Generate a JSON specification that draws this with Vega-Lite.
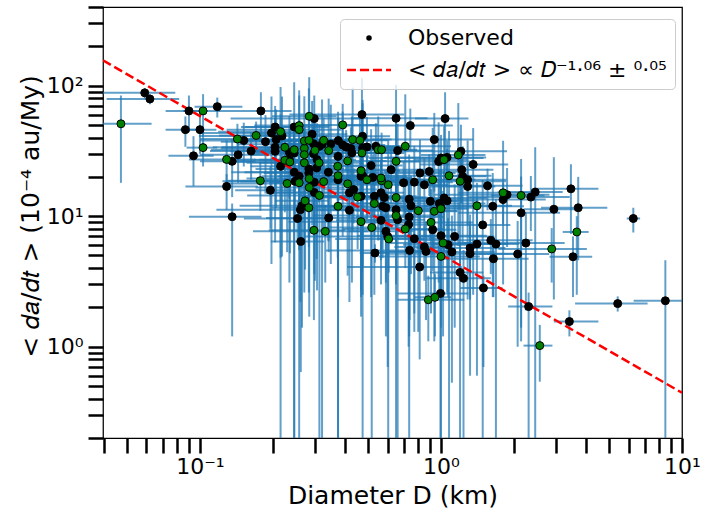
{
"$schema": "https://vega.github.io/schema/vega-lite/v6.json",
"width": 579, "height": 431,
"autosize": {"type": "none"},
"padding": {"left": 103, "top": 7, "right": 30, "bottom": 70},
"background": "white",
"config": {"font": "DejaVu Sans", "view": {"stroke": "black", "strokeWidth": 1.25}},
"datasets": {
"fit": [{"d":0.0396,"v":156},{"d":10,"v":0.444}],
"pts": [
{"d":0.047,"dl":0.031,"dh":0.063,"v":51,"vl":18,"vh":84,"g":"G"},
{"d":0.059,"dl":0.039,"dh":0.079,"v":88,"vl":80,"vh":96,"g":"B"},
{"d":0.062,"dl":0.041,"dh":0.082,"v":79,"vl":72,"vh":86,"g":"B"},
{"d":0.09,"dl":0.072,"dh":0.108,"v":64,"vl":44,"vh":84,"g":"B"},
{"d":0.103,"dl":0.085,"dh":0.121,"v":64,"vl":42,"vh":86,"g":"G"},
{"d":0.118,"dl":0.095,"dh":0.15,"v":69,"vl":57,"vh":81,"g":"B"},
{"d":0.087,"dl":0.072,"dh":0.102,"v":46,"vl":34,"vh":58,"g":"B"},
{"d":0.1,"dl":0.083,"dh":0.117,"v":46,"vl":30,"vh":62,"g":"B"},
{"d":0.103,"dl":0.088,"dh":0.118,"v":33.5,"vl":24,"vh":43,"g":"G"},
{"d":0.094,"dl":0.074,"dh":0.114,"v":29,"vl":17,"vh":41,"g":"B"},
{"d":0.179,"dl":0.12,"dh":0.24,"v":64,"vl":39,"vh":89,"g":"B"},
{"d":0.143,"dl":0.1,"dh":0.18,"v":39,"vl":27,"vh":51,"g":"G"},
{"d":0.152,"dl":0.1,"dh":0.2,"v":38,"vl":24,"vh":52,"g":"B"},
{"d":0.171,"dl":0.12,"dh":0.22,"v":41.5,"vl":30,"vh":53,"g":"G"},
{"d":0.163,"dl":0.11,"dh":0.21,"v":31.5,"vl":19,"vh":44,"g":"B"},
{"d":0.144,"dl":0.1,"dh":0.19,"v":29.5,"vl":18,"vh":41,"g":"B"},
{"d":0.129,"dl":0.09,"dh":0.17,"v":27.2,"vl":16,"vh":38,"g":"G"},
{"d":0.136,"dl":0.1,"dh":0.17,"v":26.3,"vl":14,"vh":39,"g":"B"},
{"d":0.129,"dl":0.087,"dh":0.174,"v":16.9,"vl":11.2,"vh":21,"g":"B"},
{"d":0.178,"dl":0.13,"dh":0.23,"v":18.7,"vl":11,"vh":26,"g":"G"},
{"d":0.196,"dl":0.14,"dh":0.25,"v":15.8,"vl":8,"vh":24,"g":"B"},
{"d":0.136,"dl":0.09,"dh":0.18,"v":9.9,"vl":1.2,"vh":12.5,"g":"B"},
{"d":0.187,"dl":0.122,"dh":0.252,"v":37.2,"vl":14.9,"vh":59.5,"g":"B"},
{"d":0.198,"dl":0.099,"dh":0.297,"v":43.4,"vl":4.3,"vh":82.5,"g":"B"},
{"d":0.205,"dl":0.154,"dh":0.256,"v":48.2,"vl":26.5,"vh":69.9,"g":"B"},
{"d":0.216,"dl":0.119,"dh":0.313,"v":44.4,"vl":0.05,"vh":97.7,"g":"G"},
{"d":0.207,"dl":0.145,"dh":0.269,"v":38.6,"vl":11.6,"vh":65.6,"g":"B"},
{"d":0.219,"dl":0.099,"dh":0.339,"v":41.2,"vl":4.9,"vh":82.4,"g":"B"},
{"d":0.205,"dl":0.123,"dh":0.287,"v":33.7,"vl":16.9,"vh":50.6,"g":"B"},
{"d":0.205,"dl":0.133,"dh":0.277,"v":31.4,"vl":6.3,"vh":56.5,"g":"B"},
{"d":0.225,"dl":0.113,"dh":0.338,"v":33.7,"vl":21.9,"vh":45.5,"g":"G"},
{"d":0.216,"dl":0.162,"dh":0.27,"v":24.1,"vl":4.8,"vh":60.3,"g":"B"},
{"d":0.225,"dl":0.124,"dh":0.326,"v":26.8,"vl":10.7,"vh":42.9,"g":"G"},
{"d":0.235,"dl":0.165,"dh":0.306,"v":30.8,"vl":3.1,"vh":58.5,"g":"B"},
{"d":0.246,"dl":0.111,"dh":0.381,"v":32.3,"vl":17.8,"vh":46.8,"g":"G"},
{"d":0.246,"dl":0.148,"dh":0.344,"v":48.2,"vl":0.05,"vh":106,"g":"B"},
{"d":0.258,"dl":0.168,"dh":0.348,"v":49.4,"vl":14.8,"vh":84,"g":"G"},
{"d":0.258,"dl":0.129,"dh":0.387,"v":46,"vl":5.5,"vh":92,"g":"G"},
{"d":0.235,"dl":0.176,"dh":0.294,"v":27.1,"vl":13.6,"vh":40.7,"g":"B"},
{"d":0.236,"dl":0.13,"dh":0.342,"v":26,"vl":5.2,"vh":46.8,"g":"G"},
{"d":0.246,"dl":0.172,"dh":0.32,"v":30.5,"vl":19.8,"vh":41.2,"g":"B"},
{"d":0.271,"dl":0.122,"dh":0.42,"v":33.1,"vl":6.6,"vh":82.8,"g":"G"},
{"d":0.271,"dl":0.163,"dh":0.379,"v":29.6,"vl":11.8,"vh":47.4,"g":"G"},
{"d":0.271,"dl":0.176,"dh":0.366,"v":25.6,"vl":2.6,"vh":48.6,"g":"G"},
{"d":0.248,"dl":0.124,"dh":0.372,"v":18.5,"vl":10.2,"vh":26.8,"g":"B"},
{"d":0.258,"dl":0.194,"dh":0.323,"v":18,"vl":0.05,"vh":39.6,"g":"G"},
{"d":0.23,"dl":0.127,"dh":0.334,"v":17.8,"vl":5.3,"vh":30.3,"g":"G"},
{"d":0.284,"dl":0.199,"dh":0.369,"v":58.2,"vl":7,"vh":116,"g":"G"},
{"d":0.298,"dl":0.134,"dh":0.462,"v":55.9,"vl":28,"vh":83.9,"g":"B"},
{"d":0.292,"dl":0.175,"dh":0.409,"v":42.4,"vl":8.5,"vh":76.3,"g":"B"},
{"d":0.271,"dl":0.176,"dh":0.366,"v":37.7,"vl":24.5,"vh":50.9,"g":"G"},
{"d":0.283,"dl":0.142,"dh":0.425,"v":38.1,"vl":7.6,"vh":95.3,"g":"G"},
{"d":0.296,"dl":0.222,"dh":0.37,"v":35.9,"vl":14.4,"vh":57.4,"g":"B"},
{"d":0.3,"dl":0.165,"dh":0.435,"v":31.9,"vl":3.2,"vh":60.6,"g":"G"},
{"d":0.313,"dl":0.219,"dh":0.407,"v":34.3,"vl":18.9,"vh":49.7,"g":"B"},
{"d":0.321,"dl":0.144,"dh":0.498,"v":35.5,"vl":0.05,"vh":78.1,"g":"B"},
{"d":0.283,"dl":0.17,"dh":0.396,"v":23,"vl":6.9,"vh":39.1,"g":"B"},
{"d":0.283,"dl":0.184,"dh":0.382,"v":21.4,"vl":2.6,"vh":42.8,"g":"B"},
{"d":0.312,"dl":0.156,"dh":0.468,"v":25.6,"vl":12.8,"vh":38.4,"g":"G"},
{"d":0.305,"dl":0.229,"dh":0.381,"v":23.4,"vl":4.7,"vh":42.1,"g":"B"},
{"d":0.284,"dl":0.156,"dh":0.412,"v":19.4,"vl":12.6,"vh":26.2,"g":"G"},
{"d":0.298,"dl":0.209,"dh":0.387,"v":18.2,"vl":3.6,"vh":45.5,"g":"B"},
{"d":0.326,"dl":0.147,"dh":0.505,"v":18.4,"vl":7.4,"vh":29.4,"g":"G"},
{"d":0.284,"dl":0.17,"dh":0.398,"v":16.6,"vl":1.7,"vh":31.5,"g":"G"},
{"d":0.298,"dl":0.194,"dh":0.402,"v":15.2,"vl":8.4,"vh":22,"g":"B"},
{"d":0.313,"dl":0.157,"dh":0.47,"v":14.4,"vl":0.05,"vh":31.7,"g":"G"},
{"d":0.273,"dl":0.205,"dh":0.341,"v":13.1,"vl":3.9,"vh":22.3,"g":"G"},
{"d":0.265,"dl":0.146,"dh":0.384,"v":12,"vl":1.4,"vh":24,"g":"B"},
{"d":0.283,"dl":0.198,"dh":0.368,"v":11.6,"vl":5.8,"vh":17.4,"g":"G"},
{"d":0.261,"dl":0.117,"dh":0.405,"v":11.2,"vl":2.2,"vh":20.2,"g":"B"},
{"d":0.254,"dl":0.152,"dh":0.356,"v":9.6,"vl":6.2,"vh":13,"g":"B"},
{"d":0.297,"dl":0.193,"dh":0.401,"v":7.8,"vl":1.6,"vh":19.5,"g":"G"},
{"d":0.331,"dl":0.166,"dh":0.497,"v":7.65,"vl":3.1,"vh":12.2,"g":"G"},
{"d":0.262,"dl":0.197,"dh":0.328,"v":6.4,"vl":0.64,"vh":12.2,"g":"B"},
{"d":0.342,"dl":0.188,"dh":0.496,"v":9.7,"vl":5.3,"vh":14.1,"g":"B"},
{"d":0.374,"dl":0.262,"dh":0.486,"v":11.9,"vl":0.05,"vh":26.2,"g":"G"},
{"d":0.341,"dl":0.153,"dh":0.529,"v":21.7,"vl":6.5,"vh":36.9,"g":"B"},
{"d":0.349,"dl":0.209,"dh":0.489,"v":35.7,"vl":4.3,"vh":71.4,"g":"B"},
{"d":0.375,"dl":0.244,"dh":0.506,"v":37.9,"vl":19,"vh":56.9,"g":"B"},
{"d":0.391,"dl":0.196,"dh":0.587,"v":35.1,"vl":7,"vh":63.2,"g":"B"},
{"d":0.404,"dl":0.303,"dh":0.505,"v":33.8,"vl":22,"vh":45.6,"g":"B"},
{"d":0.43,"dl":0.237,"dh":0.624,"v":38.6,"vl":7.7,"vh":96.5,"g":"G"},
{"d":0.461,"dl":0.323,"dh":0.599,"v":38.1,"vl":15.2,"vh":61,"g":"G"},
{"d":0.427,"dl":0.192,"dh":0.662,"v":30.5,"vl":3.1,"vh":58,"g":"B"},
{"d":0.391,"dl":0.235,"dh":0.547,"v":50,"vl":27.5,"vh":72.5,"g":"G"},
{"d":0.374,"dl":0.243,"dh":0.505,"v":28.7,"vl":0.05,"vh":63.1,"g":"B"},
{"d":0.374,"dl":0.187,"dh":0.561,"v":19,"vl":5.7,"vh":32.3,"g":"B"},
{"d":0.374,"dl":0.281,"dh":0.468,"v":20.4,"vl":2.4,"vh":40.8,"g":"G"},
{"d":0.41,"dl":0.226,"dh":0.595,"v":26.5,"vl":13.3,"vh":39.8,"g":"G"},
{"d":0.41,"dl":0.287,"dh":0.533,"v":17.7,"vl":3.5,"vh":31.9,"g":"G"},
{"d":0.417,"dl":0.188,"dh":0.646,"v":15.1,"vl":9.8,"vh":20.4,"g":"B"},
{"d":0.417,"dl":0.25,"dh":0.584,"v":11.1,"vl":2.2,"vh":27.8,"g":"B"},
{"d":0.451,"dl":0.293,"dh":0.609,"v":14,"vl":5.6,"vh":22.4,"g":"G"},
{"d":0.47,"dl":0.235,"dh":0.705,"v":60,"vl":6,"vh":114,"g":"B"},
{"d":0.434,"dl":0.326,"dh":0.543,"v":16,"vl":8.8,"vh":23.2,"g":"B"},
{"d":0.246,"dl":0.135,"dh":0.357,"v":21.7,"vl":0.05,"vh":47.7,"g":"B"},
{"d":0.258,"dl":0.181,"dh":0.335,"v":20.2,"vl":6.1,"vh":34.3,"g":"B"},
{"d":0.466,"dl":0.21,"dh":0.722,"v":20.2,"vl":2.4,"vh":40.4,"g":"B"},
{"d":0.521,"dl":0.313,"dh":0.729,"v":19.8,"vl":9.9,"vh":29.7,"g":"B"},
{"d":0.651,"dl":0.423,"dh":0.879,"v":56.2,"vl":11.2,"vh":101,"g":"B"},
{"d":0.746,"dl":0.373,"dh":1.12,"v":49.4,"vl":32.1,"vh":66.7,"g":"B"},
{"d":1.04,"dl":0.78,"dh":1.3,"v":55.9,"vl":22.4,"vh":89,"g":"B"},
{"d":0.938,"dl":0.516,"dh":1.36,"v":38.6,"vl":15.4,"vh":61.8,"g":"B"},
{"d":0.473,"dl":0.331,"dh":0.615,"v":40.9,"vl":4.1,"vh":77.7,"g":"B"},
{"d":0.423,"dl":0.19,"dh":0.656,"v":33,"vl":18.2,"vh":47.9,"g":"B"},
{"d":0.473,"dl":0.284,"dh":0.662,"v":33.3,"vl":0.05,"vh":73.3,"g":"B"},
{"d":0.493,"dl":0.32,"dh":0.666,"v":33.9,"vl":10.2,"vh":57.6,"g":"B"},
{"d":0.47,"dl":0.235,"dh":0.705,"v":30.5,"vl":3.7,"vh":61,"g":"G"},
{"d":0.537,"dl":0.403,"dh":0.671,"v":34.3,"vl":17.2,"vh":51.5,"g":"B"},
{"d":0.549,"dl":0.302,"dh":0.796,"v":32.3,"vl":6.5,"vh":58.1,"g":"G"},
{"d":0.567,"dl":0.397,"dh":0.737,"v":32.3,"vl":21,"vh":43.6,"g":"G"},
{"d":0.711,"dl":0.32,"dh":1.1,"v":34.3,"vl":6.9,"vh":85.8,"g":"G"},
{"d":0.661,"dl":0.397,"dh":0.925,"v":31.8,"vl":12.7,"vh":50.9,"g":"B"},
{"d":0.513,"dl":0.333,"dh":0.693,"v":24.4,"vl":2.4,"vh":46.4,"g":"B"},
{"d":0.621,"dl":0.311,"dh":0.932,"v":22.7,"vl":12.5,"vh":32.9,"g":"B"},
{"d":0.651,"dl":0.488,"dh":0.814,"v":26.3,"vl":0.05,"vh":57.9,"g":"G"},
{"d":0.466,"dl":0.256,"dh":0.676,"v":22.3,"vl":6.7,"vh":37.9,"g":"G"},
{"d":0.473,"dl":0.331,"dh":0.615,"v":20.5,"vl":2.5,"vh":41,"g":"B"},
{"d":0.493,"dl":0.222,"dh":0.764,"v":19,"vl":9.5,"vh":28.5,"g":"G"},
{"d":0.818,"dl":0.491,"dh":1.15,"v":21.4,"vl":4.3,"vh":38.5,"g":"B"},
{"d":0.894,"dl":0.581,"dh":1.21,"v":22,"vl":14.3,"vh":29.7,"g":"B"},
{"d":0.924,"dl":0.462,"dh":1.39,"v":19,"vl":3.8,"vh":47.5,"g":"G"},
{"d":0.853,"dl":0.64,"dh":1.07,"v":17.4,"vl":7,"vh":27.8,"g":"B"},
{"d":0.775,"dl":0.426,"dh":1.12,"v":18.2,"vl":1.8,"vh":34.6,"g":"B"},
{"d":0.7,"dl":0.49,"dh":0.91,"v":18,"vl":9.9,"vh":26.1,"g":"B"},
{"d":0.604,"dl":0.272,"dh":0.936,"v":17.4,"vl":0.05,"vh":38.3,"g":"G"},
{"d":0.567,"dl":0.34,"dh":0.794,"v":18.7,"vl":5.6,"vh":31.8,"g":"G"},
{"d":0.978,"dl":0.636,"dh":1.32,"v":26.2,"vl":3.1,"vh":52.4,"g":"B"},
{"d":1.0,"dl":0.5,"dh":1.5,"v":27.9,"vl":14,"vh":41.9,"g":"B"},
{"d":1.03,"dl":0.773,"dh":1.29,"v":27.1,"vl":5.4,"vh":48.8,"g":"G"},
{"d":1.06,"dl":0.583,"dh":1.54,"v":28.2,"vl":18.3,"vh":38.1,"g":"B"},
{"d":1.18,"dl":0.826,"dh":1.53,"v":29.4,"vl":5.9,"vh":73.5,"g":"G"},
{"d":1.21,"dl":0.545,"dh":1.88,"v":31.4,"vl":12.6,"vh":50.2,"g":"B"},
{"d":1.36,"dl":0.816,"dh":1.9,"v":24.9,"vl":2.5,"vh":47.3,"g":"B"},
{"d":1.22,"dl":0.793,"dh":1.65,"v":22.7,"vl":12.5,"vh":32.9,"g":"B"},
{"d":1.08,"dl":0.54,"dh":1.62,"v":20.4,"vl":0.05,"vh":44.9,"g":"G"},
{"d":1.23,"dl":0.923,"dh":1.54,"v":20.2,"vl":6.1,"vh":34.3,"g":"B"},
{"d":1.29,"dl":0.71,"dh":1.87,"v":19,"vl":2.3,"vh":38,"g":"B"},
{"d":1.29,"dl":0.903,"dh":1.68,"v":16.9,"vl":8.5,"vh":25.4,"g":"B"},
{"d":1.2,"dl":0.54,"dh":1.86,"v":18.5,"vl":3.7,"vh":33.3,"g":"G"},
{"d":1.56,"dl":0.936,"dh":2.18,"v":17.1,"vl":11.1,"vh":23.1,"g":"B"},
{"d":1.81,"dl":1.18,"dh":2.44,"v":15.1,"vl":3,"vh":37.8,"g":"G"},
{"d":1.88,"dl":0.94,"dh":2.82,"v":14.6,"vl":5.8,"vh":23.4,"g":"B"},
{"d":2.15,"dl":1.61,"dh":2.69,"v":14.4,"vl":1.4,"vh":27.4,"g":"G"},
{"d":2.36,"dl":1.3,"dh":3.42,"v":14,"vl":7.7,"vh":20.3,"g":"B"},
{"d":2.46,"dl":1.72,"dh":3.2,"v":15.3,"vl":0.05,"vh":33.7,"g":"B"},
{"d":3.46,"dl":2.42,"dh":4.5,"v":16.2,"vl":7.3,"vh":25,"g":"B"},
{"d":1.41,"dl":0.846,"dh":1.97,"v":12,"vl":6,"vh":18,"g":"G"},
{"d":1.64,"dl":1.07,"dh":2.21,"v":11.9,"vl":2.4,"vh":21.4,"g":"B"},
{"d":1.81,"dl":0.905,"dh":2.72,"v":13.4,"vl":8.7,"vh":18.1,"g":"B"},
{"d":2.94,"dl":2.2,"dh":3.68,"v":11.3,"vl":2.3,"vh":28.3,"g":"B"},
{"d":3.71,"dl":2.6,"dh":4.9,"v":11.6,"vl":4.6,"vh":20,"g":"B"},
{"d":2.15,"dl":1.18,"dh":3.12,"v":10.6,"vl":1.1,"vh":20.1,"g":"B"},
{"d":6.28,"dl":5.9,"dh":6.7,"v":9.6,"vl":7.5,"vh":11.6,"g":"B"},
{"d":3.66,"dl":3.2,"dh":4.1,"v":7.57,"vl":2.5,"vh":10,"g":"G"},
{"d":1.49,"dl":1.04,"dh":1.94,"v":8.57,"vl":0.05,"vh":18.9,"g":"B"},
{"d":0.532,"dl":0.46,"dh":0.6,"v":5.22,"vl":4.4,"vh":6.1,"g":"B"},
{"d":0.741,"dl":0.333,"dh":1.15,"v":5.47,"vl":1.6,"vh":9.3,"g":"B"},
{"d":2.88,"dl":1.73,"dh":4.03,"v":5.61,"vl":3.1,"vh":8.1,"g":"G"},
{"d":3.53,"dl":2.82,"dh":4.24,"v":4.89,"vl":2.4,"vh":7,"g":"B"},
{"d":0.466,"dl":0.303,"dh":0.629,"v":14.2,"vl":1.7,"vh":28.4,"g":"B"},
{"d":0.529,"dl":0.265,"dh":0.794,"v":14.2,"vl":7.1,"vh":21.3,"g":"B"},
{"d":0.564,"dl":0.423,"dh":0.705,"v":15.1,"vl":3,"vh":27.2,"g":"B"},
{"d":0.582,"dl":0.32,"dh":0.844,"v":13.9,"vl":9,"vh":18.8,"g":"B"},
{"d":0.529,"dl":0.37,"dh":0.688,"v":12.5,"vl":2.5,"vh":31.3,"g":"G"},
{"d":0.573,"dl":0.258,"dh":0.888,"v":11.9,"vl":4.8,"vh":19,"g":"B"},
{"d":0.591,"dl":0.355,"dh":0.827,"v":11.6,"vl":1.2,"vh":22,"g":"B"},
{"d":0.651,"dl":0.423,"dh":0.879,"v":13.9,"vl":7.6,"vh":20.2,"g":"G"},
{"d":0.738,"dl":0.369,"dh":1.11,"v":13.5,"vl":0.05,"vh":29.7,"g":"B"},
{"d":0.751,"dl":0.563,"dh":0.939,"v":12,"vl":3.6,"vh":20.4,"g":"B"},
{"d":0.805,"dl":0.443,"dh":1.17,"v":11,"vl":1.3,"vh":22,"g":"G"},
{"d":0.903,"dl":0.632,"dh":1.17,"v":13,"vl":6.5,"vh":19.5,"g":"B"},
{"d":0.984,"dl":0.443,"dh":1.53,"v":12.5,"vl":2.5,"vh":22.5,"g":"B"},
{"d":1.0,"dl":0.6,"dh":1.4,"v":11.6,"vl":7.5,"vh":15.7,"g":"B"},
{"d":1.06,"dl":0.689,"dh":1.43,"v":13.1,"vl":2.6,"vh":32.8,"g":"B"},
{"d":1.03,"dl":0.515,"dh":1.55,"v":13.8,"vl":5.5,"vh":22.1,"g":"B"},
{"d":0.938,"dl":0.704,"dh":1.17,"v":10.9,"vl":1.1,"vh":20.7,"g":"G"},
{"d":0.651,"dl":0.358,"dh":0.944,"v":11.2,"vl":6.2,"vh":16.2,"g":"B"},
{"d":0.661,"dl":0.463,"dh":0.859,"v":9.4,"vl":0.05,"vh":20.7,"g":"B"},
{"d":0.651,"dl":0.293,"dh":1.01,"v":10.1,"vl":3,"vh":17.2,"g":"G"},
{"d":0.738,"dl":0.443,"dh":1.03,"v":9.86,"vl":1.2,"vh":19.7,"g":"B"},
{"d":0.564,"dl":0.367,"dh":0.761,"v":9.29,"vl":4.6,"vh":13.9,"g":"B"},
{"d":0.909,"dl":0.455,"dh":1.36,"v":8.96,"vl":1.8,"vh":16.1,"g":"G"},
{"d":0.924,"dl":0.693,"dh":1.16,"v":7.88,"vl":5.1,"vh":10.6,"g":"B"},
{"d":1.14,"dl":0.627,"dh":1.65,"v":7,"vl":1.4,"vh":17.5,"g":"B"},
{"d":0.591,"dl":0.414,"dh":0.768,"v":7.65,"vl":3.1,"vh":12.2,"g":"B"},
{"d":0.601,"dl":0.27,"dh":0.932,"v":7,"vl":0.7,"vh":13.3,"g":"B"},
{"d":0.607,"dl":0.364,"dh":0.85,"v":6.69,"vl":3.7,"vh":9.7,"g":"G"},
{"d":0.516,"dl":0.335,"dh":0.697,"v":8.2,"vl":0.05,"vh":18,"g":"G"},
{"d":0.466,"dl":0.233,"dh":0.699,"v":9.08,"vl":2.7,"vh":15.4,"g":"G"},
{"d":0.734,"dl":0.551,"dh":0.918,"v":8.61,"vl":1.0,"vh":17.2,"g":"B"},
{"d":0.711,"dl":0.391,"dh":1.03,"v":7.98,"vl":4,"vh":12,"g":"G"},
{"d":0.775,"dl":0.543,"dh":1.01,"v":6.72,"vl":1.3,"vh":12.1,"g":"B"},
{"d":1.0,"dl":0.45,"dh":1.55,"v":7.09,"vl":4.6,"vh":9.6,"g":"B"},
{"d":1.02,"dl":0.612,"dh":1.43,"v":6.23,"vl":1.2,"vh":15.6,"g":"G"},
{"d":1.07,"dl":0.696,"dh":1.44,"v":6.05,"vl":2.4,"vh":9.7,"g":"B"},
{"d":1.11,"dl":0.555,"dh":1.67,"v":5.32,"vl":0.53,"vh":10.1,"g":"B"},
{"d":0.853,"dl":0.64,"dh":1.07,"v":5.81,"vl":3.2,"vh":8.4,"g":"B"},
{"d":1.0,"dl":0.55,"dh":1.45,"v":4.92,"vl":0.05,"vh":10.8,"g":"G"},
{"d":0.867,"dl":0.607,"dh":1.13,"v":5.37,"vl":1.6,"vh":9.1,"g":"B"},
{"d":1.32,"dl":0.594,"dh":2.05,"v":5.16,"vl":0.6,"vh":10.3,"g":"B"},
{"d":1.65,"dl":0.99,"dh":2.31,"v":4.72,"vl":2.4,"vh":7.1,"g":"B"},
{"d":2.08,"dl":1.35,"dh":2.81,"v":5.13,"vl":1,"vh":9.2,"g":"B"},
{"d":0.816,"dl":0.408,"dh":1.22,"v":4.08,"vl":0.8,"vh":10.2,"g":"B"},
{"d":1.2,"dl":0.9,"dh":1.5,"v":3.71,"vl":0.05,"vh":6.3,"g":"B"},
{"d":1.24,"dl":0.87,"dh":1.61,"v":3.34,"vl":0.05,"vh":5.5,"g":"B"},
{"d":1.5,"dl":1.2,"dh":1.8,"v":2.82,"vl":0.7,"vh":3.5,"g":"B"},
{"d":0.995,"dl":0.66,"dh":1.3,"v":2.56,"vl":0.05,"vh":3.5,"g":"B"},
{"d":0.886,"dl":0.66,"dh":1.25,"v":2.29,"vl":1.1,"vh":3.5,"g":"G"},
{"d":0.944,"dl":0.78,"dh":1.1,"v":2.39,"vl":1.2,"vh":3.6,"g":"G"},
{"d":2.31,"dl":1.9,"dh":2.9,"v":2.03,"vl":0.05,"vh":2.6,"g":"B"},
{"d":3.41,"dl":2.94,"dh":4.5,"v":1.56,"vl":1.2,"vh":1.9,"g":"B"},
{"d":5.41,"dl":3.6,"dh":7.2,"v":2.14,"vl":1.86,"vh":2.43,"g":"B"},
{"d":8.53,"dl":6.3,"dh":11,"v":2.25,"vl":0.05,"vh":4.6,"g":"B"},
{"d":2.57,"dl":2.2,"dh":2.9,"v":1.02,"vl":0.54,"vh":1.47,"g":"G"},
{"d":1.32,"dl":0.79,"dh":1.85,"v":5.71,"vl":2.3,"vh":9.1,"g":"B"},
{"d":1.41,"dl":0.92,"dh":1.9,"v":6.12,"vl":0.6,"vh":11.6,"g":"B"},
{"d":1.61,"dl":0.8,"dh":2.4,"v":6.53,"vl":3.6,"vh":9.5,"g":"B"},
{"d":1.69,"dl":1.27,"dh":2.11,"v":6.12,"vl":0.05,"vh":13.5,"g":"B"},
{"d":2.25,"dl":1.24,"dh":3.26,"v":6.23,"vl":1.9,"vh":10.6,"g":"B"},
{"d":1.0,"dl":0.7,"dh":1.3,"v":11.4,"vl":1.4,"vh":22.8,"g":"G"},
{"d":0.326,"dl":0.147,"dh":0.505,"v":38.1,"vl":19,"vh":57,"g":"G"},
{"d":0.373,"dl":0.224,"dh":0.522,"v":24.1,"vl":4.8,"vh":43.4,"g":"G"},
{"d":0.564,"dl":0.367,"dh":0.761,"v":19.6,"vl":12.7,"vh":26.5,"g":"G"},
{"d":0.342,"dl":0.171,"dh":0.513,"v":31.8,"vl":6.4,"vh":79.5,"g":"G"},
{"d":0.296,"dl":0.222,"dh":0.37,"v":30.1,"vl":12,"vh":48.2,"g":"B"},
{"d":0.306,"dl":0.168,"dh":0.444,"v":27.1,"vl":2.7,"vh":51.5,"g":"B"}
]},
"layer": [
{"data": {"name": "pts"},
 "mark": {"type": "rule", "clip": true, "color": "#1f77b4", "opacity": 0.7, "strokeWidth": 2},
 "encoding": {
  "x": {"field": "dl", "type": "quantitative", "title": "Diameter D (km)",
   "scale": {"type": "log", "domain": [0.0396, 10], "nice": false},
   "axis": {"values": [0.04,0.05,0.06,0.07,0.08,0.09,0.1,0.2,0.3,0.4,0.5,0.6,0.7,0.8,0.9,1,2,3,4,5,6,7,8,9,10],
    "labelExpr": "datum.value == 0.1 ? '10⁻¹' : datum.value == 1 ? '10⁰' : datum.value == 10 ? '10¹' : ''",
    "domain": false, "grid": false, "tickSize": 15, "tickColor": "black", "tickWidth": 2.5,
    "labelFontSize": 22, "labelColor": "black", "labelPadding": 3, "labelOverlap": false, "labelFlush": false,
    "titleFontSize": 25, "titleFontWeight": "normal", "titleColor": "black", "titleY": 65, "titleBaseline": "alphabetic",
    "encode": {"ticks": {"update": {
      "y2": {"signal": "abs(log(datum.value)/LN10 - round(log(datum.value)/LN10)) < 0.000001 ? 15 : 8"},
      "strokeWidth": {"signal": "abs(log(datum.value)/LN10 - round(log(datum.value)/LN10)) < 0.000001 ? 2.5 : 1.5"}}}}}},
  "x2": {"field": "dh"},
  "y": {"field": "v", "type": "quantitative", "title": "< 𝑑𝑎/𝑑𝑡 >  (10⁻⁴ au/My)",
   "scale": {"type": "log", "domain": [0.2, 400], "nice": false},
   "axis": {"values": [0.2,0.3,0.4,0.5,0.6,0.7,0.8,0.9,1,2,3,4,5,6,7,8,9,10,20,30,40,50,60,70,80,90,100,200,300,400],
    "labelExpr": "datum.value == 1 ? '10⁰' : datum.value == 10 ? '10¹' : datum.value == 100 ? '10²' : ''",
    "domain": false, "grid": false, "tickSize": 15, "tickColor": "black", "tickWidth": 2.5,
    "labelFontSize": 22, "labelColor": "black", "labelPadding": 5, "labelOverlap": false, "labelFlush": false,
    "titleFontSize": 25, "titleFontWeight": "normal", "titleColor": "black", "titleX": -65, "titleY": 209, "titleBaseline": "alphabetic", "titleAngle": -90,
    "encode": {"ticks": {"update": {
      "x2": {"signal": "abs(log(datum.value)/LN10 - round(log(datum.value)/LN10)) < 0.000001 ? -15 : -8"},
      "strokeWidth": {"signal": "abs(log(datum.value)/LN10 - round(log(datum.value)/LN10)) < 0.000001 ? 2.5 : 1.5"}}}}}}
 }},
{"data": {"name": "pts"},
 "mark": {"type": "rule", "clip": true, "color": "#1f77b4", "opacity": 0.7, "strokeWidth": 2},
 "encoding": {
  "x": {"field": "d", "type": "quantitative", "title": "Diameter D (km)"},
  "y": {"field": "vl", "type": "quantitative", "title": "< 𝑑𝑎/𝑑𝑡 >  (10⁻⁴ au/My)"},
  "y2": {"field": "vh"}
 }},
{"data": {"name": "fit"},
 "mark": {"type": "line", "clip": true, "strokeDash": [9, 4], "strokeWidth": 2.5},
 "encoding": {
  "x": {"field": "d", "type": "quantitative", "title": "Diameter D (km)"},
  "y": {"field": "v", "type": "quantitative", "title": "< 𝑑𝑎/𝑑𝑡 >  (10⁻⁴ au/My)"},
  "color": {"datum": "< 𝑑𝑎/𝑑𝑡 > ∝ 𝐷⁻¹·⁰⁶ ± ⁰·⁰⁵",
   "scale": {"domain": ["Observed", "< 𝑑𝑎/𝑑𝑡 > ∝ 𝐷⁻¹·⁰⁶ ± ⁰·⁰⁵"], "range": ["black", "red"]},
   "legend": {"title": null, "orient": "none", "legendX": 237, "legendY": 12,
    "labelFontSize": 22, "labelColor": "black", "labelLimit": 500, "symbolSize": 484, "symbolStrokeWidth": 2.5,
    "padding": 8, "rowPadding": 10, "labelOffset": 28, "symbolOffset": 10,
    "strokeColor": "#cccccc", "fillColor": "rgba(255,255,255,0.8)", "cornerRadius": 4,
    "encode": {"symbols": {"update": {
      "shape": {"signal": "datum.value === 'Observed' ? 'circle' : 'M-2,0L2,0'"},
      "size": {"signal": "datum.value === 'Observed' ? 30 : 484"},
      "fill": {"signal": "datum.value === 'Observed' ? 'black' : 'transparent'"},
      "stroke": {"signal": "datum.value === 'Observed' ? 'black' : 'red'"},
      "strokeDash": {"signal": "datum.value === 'Observed' ? [1, 0] : [9, 4]"},
      "strokeWidth": {"signal": "datum.value === 'Observed' ? 0 : 2.5"},
      "opacity": {"value": 1}}}}}}
 }},
{"data": {"name": "pts"},
 "transform": [{"filter": "datum.g == 'B'"}],
 "mark": {"type": "point", "filled": true, "size": 64, "stroke": "black", "strokeWidth": 1, "opacity": 1},
 "encoding": {
  "x": {"field": "d", "type": "quantitative", "title": "Diameter D (km)"},
  "y": {"field": "v", "type": "quantitative", "title": "< 𝑑𝑎/𝑑𝑡 >  (10⁻⁴ au/My)"},
  "color": {"datum": "Observed"}
 }},
{"data": {"name": "pts"},
 "transform": [{"filter": "datum.g == 'G'"}],
 "mark": {"type": "point", "filled": true, "size": 64, "fill": "green", "stroke": "black", "strokeWidth": 1, "opacity": 1},
 "encoding": {
  "x": {"field": "d", "type": "quantitative", "title": "Diameter D (km)"},
  "y": {"field": "v", "type": "quantitative", "title": "< 𝑑𝑎/𝑑𝑡 >  (10⁻⁴ au/My)"}
 }}
]
}
